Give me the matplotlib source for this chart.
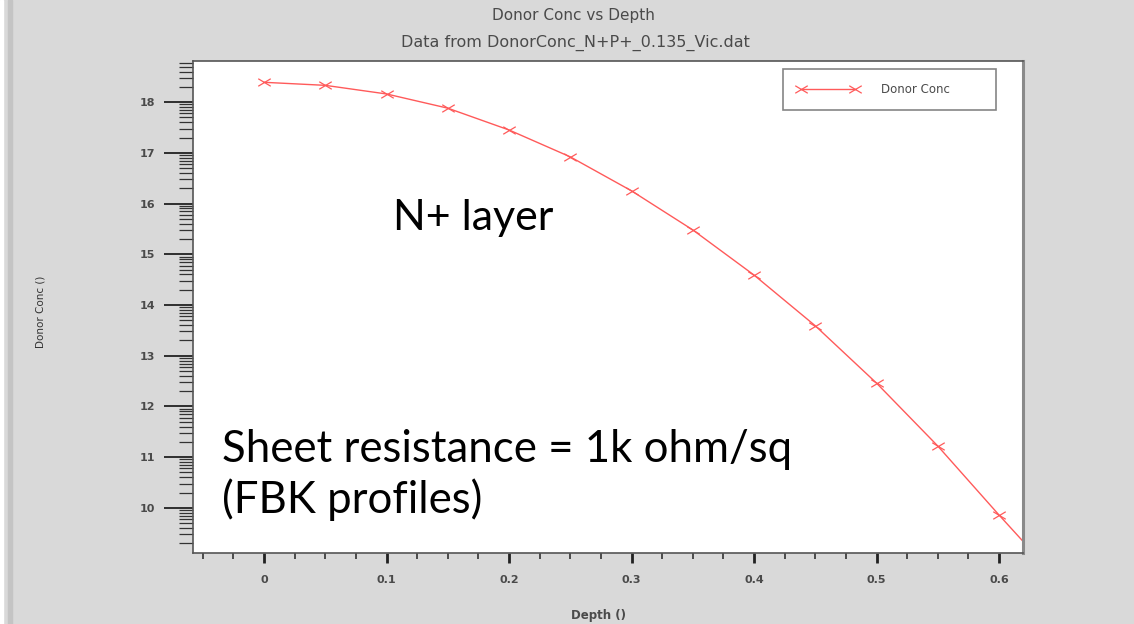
import numpy as np
import matplotlib.pyplot as plt
from matplotlib.path import Path
from matplotlib.patches import Rectangle
from matplotlib.ticker import FixedLocator, MultipleLocator

# profile samples (depth in um, log10 of donor concentration)
depth = [0.0, 0.05, 0.10, 0.15, 0.20, 0.25, 0.30, 0.35, 0.40, 0.45, 0.50, 0.55, 0.60, 0.62]
conc = [18.39, 18.33, 18.16, 17.88, 17.45, 16.92, 16.25, 15.48, 14.59, 13.59, 12.46, 11.22, 9.86, 9.33]
marked = list(range(13))

x_ticks = [0, 0.1, 0.2, 0.3, 0.4, 0.5, 0.6]
x_ticklabels = ["0", "0.1", "0.2", "0.3", "0.4", "0.5", "0.6"]
y_ticks = [10, 11, 12, 13, 14, 15, 16, 17, 18]

bg = "#d9d9d9"
txt = "#4a4a4a"
red = "#ff5a5a"

# wide flat cross marker
cross = Path([(-1, -0.6), (1, 0.6), (-1, 0.6), (1, -0.6)],
             [Path.MOVETO, Path.LINETO, Path.MOVETO, Path.LINETO])

fig = plt.figure(figsize=(11.34, 6.24), dpi=100, facecolor=bg)
ax = fig.add_axes([193/1134, 71/624, 830/1134, 492/624])

ax.plot(depth, conc, color=red, lw=1.0, marker=cross, markevery=marked,
        ms=9, mew=0.9, mec=red, label="Donor Conc")

ax.set_xlim(-0.058, 0.6196)
ax.set_ylim(9.11, 18.81)

ax.xaxis.set_major_locator(FixedLocator(x_ticks))
ax.set_xticklabels(x_ticklabels)
ax.xaxis.set_minor_locator(MultipleLocator(0.025))
ax.yaxis.set_major_locator(FixedLocator(y_ticks))
# decade-style minor ticks inside each unit
minors = [n + np.log10(k) for n in range(9, 19) for k in range(2, 10)]
ax.yaxis.set_minor_locator(FixedLocator(minors))

ax.tick_params(axis="y", which="major", length=21, width=1.3, color="#222222",
               labelsize=8, labelcolor=txt, pad=6)
ax.tick_params(axis="y", which="minor", length=10, width=0.9, color="#333333")
ax.tick_params(axis="x", which="major", length=7, width=2, color="#222222",
               labelsize=8, labelcolor=txt, pad=9)
ax.tick_params(axis="x", which="minor", length=4, width=1.2, color="#333333")
for lab in ax.get_xticklabels() + ax.get_yticklabels():
    lab.set_fontweight("bold")

for side in ["left", "bottom", "top"]:
    ax.spines[side].set_color("#555555")
    ax.spines[side].set_linewidth(1.2)
ax.spines["right"].set_color("#8a8a8a")
ax.spines["right"].set_linewidth(2.2)

fig.text(0.506, 0.975, "Donor Conc vs Depth", ha="center", va="center",
         fontsize=11, color=txt, family="DejaVu Sans")
fig.text(0.507, 0.931, "Data from DonorConc_N+P+_0.135_Vic.dat", ha="center", va="center",
         fontsize=11.5, color=txt, family="DejaVu Sans")
fig.text(0.528, 0.013, "Depth ()", ha="center", va="center",
         fontsize=8.5, color=txt, fontweight="bold")
fig.text(0.036, 0.50, "Donor Conc ()", ha="center", va="center", rotation=90,
         fontsize=7.5, color="#333333", family=["Liberation Sans Narrow", "DejaVu Sans"])

leg = ax.legend(loc="upper left", bbox_to_anchor=(0.711, 0.904, 0.256, 0.08),
                mode="expand", numpoints=2, handlelength=5.2, frameon=True,
                fancybox=False, fontsize=8.5, borderpad=1.2, labelcolor=txt,
                handletextpad=1.9, borderaxespad=0)
leg.get_frame().set_edgecolor("#666666")
leg.get_frame().set_linewidth(1.2)

# annotations on the plot area
ax.text(0.241, 0.681, "N+ layer", transform=ax.transAxes, fontsize=31,
        family="Lato", color="black", va="center")
ax.text(0.035, 0.21, "Sheet resistance = 1k ohm/sq", transform=ax.transAxes,
        fontsize=31.5, family="Lato", color="black", va="center")
ax.text(0.035, 0.109, "(FBK profiles)", transform=ax.transAxes,
        fontsize=31.5, family="Lato", color="black", va="center")

# window border on the left
fig.patches.append(Rectangle((0, 0), 3/1134, 1, transform=fig.transFigure,
                             color="white", zorder=0))
fig.patches.append(Rectangle((8/1134, 0), 4/1134, 1, transform=fig.transFigure,
                             color="#c4c4c4", zorder=0))

fig.savefig("out.png", dpi=100, facecolor=bg)
